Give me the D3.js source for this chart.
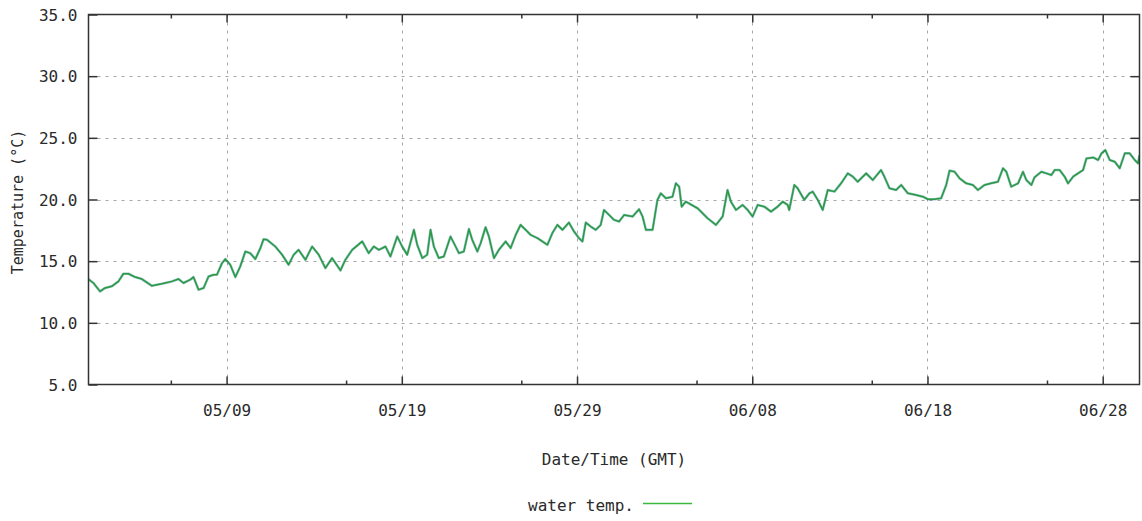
<!DOCTYPE html>
<html>
<head>
<meta charset="utf-8">
<script src="https://cdn.jsdelivr.net/npm/d3@7"></script>
<style>
  html, body { margin: 0; padding: 0; background: #fff; }
  svg { display: block; }
  text { font-family: "DejaVu Sans Mono", monospace; fill: #2a2a2a; }
</style>
</head>
<body>
<svg id="chart" width="1142" height="521"></svg>
<script>
// ---- data (days since 2013-05-01 00:00 GMT, water temperature in °C) ----
const dayOffsets = [
  0.11, 0.40, 0.78, 1.07, 1.45, 1.83, 2.11, 2.40, 2.78, 3.17, 3.74, 4.31, 4.88, 5.26, 5.54, 5.93,
  6.11, 6.40, 6.69, 6.97, 7.26, 7.45, 7.74, 7.93, 8.21, 8.50, 8.78, 9.07, 9.35, 9.64, 9.93, 10.11,
  10.31, 10.78, 11.17, 11.54, 11.83, 12.11, 12.50, 12.88, 13.26, 13.64, 14.02, 14.50, 14.78, 15.17,
  15.74, 16.11, 16.40, 16.69, 17.07, 17.35, 17.74, 18.02, 18.31, 18.69, 18.88, 19.17, 19.45, 19.64,
  19.83, 20.11, 20.40, 20.78, 21.07, 21.26, 21.54, 21.83, 22.02, 22.31, 22.50, 22.78, 22.97, 23.26,
  23.54, 23.93, 24.21, 24.50, 24.78, 25.07, 25.35, 25.74, 26.02, 26.31, 26.59, 26.88, 27.17, 27.54,
  27.83, 28.11, 28.31, 28.50, 28.78, 29.07, 29.35, 29.54, 29.83, 30.11, 30.40, 30.69, 31.17, 31.54,
  31.74, 31.93, 32.31, 32.59, 32.78, 33.07, 33.45, 33.64, 33.83, 33.97, 34.21, 34.88, 35.45, 35.93,
  36.31, 36.59, 36.78, 37.07, 37.45, 37.74, 38.02, 38.31, 38.69, 39.07, 39.45, 39.74, 40.02, 40.11,
  40.40, 40.59, 40.97, 41.26, 41.45, 41.74, 42.02, 42.31, 42.69, 43.07, 43.45, 43.74, 44.02, 44.50,
  44.88, 45.35, 45.54, 45.83, 46.21, 46.50, 46.88, 47.35, 47.74, 48.02, 48.40, 48.78, 49.07, 49.26,
  49.54, 49.83, 50.21, 50.59, 50.88, 51.26, 51.64, 52.02, 52.31, 52.50, 52.78, 53.17, 53.45, 53.64,
  53.93, 54.11, 54.50, 54.78, 55.07, 55.26, 55.54, 55.83, 56.02, 56.31, 56.59, 56.88, 57.07, 57.45,
  57.74, 57.93, 58.15, 58.40, 58.69, 58.97, 59.26, 59.54, 59.83, 60.02, 60.10
];
const waterTemp = [
  13.55, 13.23, 12.55, 12.83, 12.96, 13.36, 13.98, 13.98, 13.71, 13.55, 13.00, 13.17, 13.36, 13.55, 13.23, 13.50,
  13.71, 12.69, 12.83, 13.76, 13.90, 13.90, 14.84, 15.17, 14.71, 13.71, 14.57, 15.78, 15.65, 15.17, 16.06, 16.78,
  16.73, 16.19, 15.52, 14.71, 15.52, 15.92, 15.11, 16.19, 15.52, 14.44, 15.25, 14.25, 15.11, 15.92,
  16.60, 15.65, 16.19, 15.92, 16.19, 15.38, 17.00, 16.19, 15.52, 17.54, 16.33, 15.25, 15.52, 17.54,
  16.19, 15.25, 15.38, 17.00, 16.19, 15.65, 15.78, 17.60, 16.73, 15.78, 16.46, 17.75, 17.00, 15.25,
  15.92, 16.60, 16.06, 17.13, 17.94, 17.54, 17.13, 16.87, 16.60, 16.33, 17.27, 17.94, 17.54, 18.13,
  17.40, 16.87, 16.60, 18.13, 17.81, 17.54, 17.94, 19.15, 18.75, 18.35, 18.21, 18.75, 18.62, 19.21,
  18.62, 17.54, 17.54, 19.97, 20.50, 20.10, 20.23, 21.31, 21.04, 19.42, 19.83, 19.29, 18.48, 17.94,
  18.62, 20.77, 19.83, 19.15, 19.56, 19.15, 18.62, 19.56, 19.42, 19.02, 19.42, 19.83, 19.56, 19.15,
  21.18, 20.91, 19.97, 20.50, 20.64, 19.97, 19.15, 20.77, 20.64, 21.31, 22.12, 21.85, 21.44, 22.12,
  21.58, 22.39, 21.85, 20.91, 20.77, 21.18, 20.50, 20.37, 20.23, 20.02, 20.02, 20.10, 21.18, 22.34,
  22.26, 21.72, 21.31, 21.18, 20.77, 21.18, 21.31, 21.44, 22.53, 22.25, 21.04, 21.31, 22.25, 21.58,
  21.18, 21.80, 22.25, 22.12, 21.98, 22.39, 22.39, 21.85, 21.31, 21.85, 22.12, 22.39, 23.33, 23.41,
  23.20, 23.74, 24.01, 23.20, 23.06, 22.53, 23.74, 23.74, 23.20, 22.93, 23.60
];
const yTicks = [5, 10, 15, 20, 25, 30, 35];
const xTickDays = [8, 18, 28, 38, 48, 58];
const xTickLabels = ["05/09", "05/19", "05/29", "06/08", "06/18", "06/28"];
const xMinorTickDays = [4.82, 14.82, 24.82, 34.82, 44.82, 54.82];
const xDomainDays = [0.12, 60.1];
const yDomain = [5, 35];
const seriesName = "water temp.";
const yTitle = "Temperature (°C)";
const xTitle = "Date/Time (GMT)";

// ---- drawing ----
const base = Date.UTC(2013, 4, 1);
const toDate = d => new Date(base + d * 86400000);
const data = dayOffsets.map((d, i) => ({ t: toDate(d), v: waterTemp[i] }));

const svg = d3.select("#chart");
const L = 88.5, R = 1139.5, T = 14.5, B = 384.5;

const x = d3.scaleUtc().domain(xDomainDays.map(toDate)).range([L, R]);
const y = d3.scaleLinear().domain(yDomain).range([B, T]);

const grid = svg.append("g").attr("stroke", "#a6a6a6").attr("stroke-width", 1)
  .attr("stroke-dasharray", "3,5");
yTicks.filter(v => v > yDomain[0] && v < yDomain[1]).forEach(v => {
  grid.append("line").attr("x1", L + 9).attr("x2", R).attr("y1", Math.round(y(v)) + 0.5).attr("y2", Math.round(y(v)) + 0.5);
});
xTickDays.forEach(d => {
  const px = Math.round(x(toDate(d))) + 0.5;
  grid.append("line").attr("x1", px).attr("x2", px).attr("y1", T).attr("y2", B);
});

// clip
svg.append("clipPath").attr("id", "clip").append("rect")
  .attr("x", L).attr("y", T).attr("width", R - L).attr("height", B - T);

const line = d3.line().x(d => x(d.t)).y(d => y(d.v));
svg.append("path").datum(data).attr("clip-path", "url(#clip)")
  .attr("fill", "none").attr("stroke", "#1f7f9a").attr("stroke-opacity", 0.45)
  .attr("stroke-width", 2.6).attr("stroke-linejoin", "round").attr("d", line);
svg.append("path").datum(data).attr("clip-path", "url(#clip)")
  .attr("fill", "none").attr("stroke", "#2a9a3c")
  .attr("stroke-width", 1.5).attr("stroke-linejoin", "round").attr("d", line);

// axes via d3 (inward ticks)
const yAxis = d3.axisLeft(y).tickValues(yTicks).tickFormat(d3.format(".1f")).tickSizeInner(-9).tickSizeOuter(0).tickPadding(20);
const gy = svg.append("g").attr("transform", `translate(${L},0)`).call(yAxis);
const gyR = svg.append("g").attr("transform", `translate(${R},0)`)
  .call(d3.axisRight(y).tickValues(yTicks.filter(v => v > yDomain[0] && v < yDomain[1])).tickSizeInner(-9).tickSizeOuter(0).tickFormat(""));

const xAxis = d3.axisBottom(x).tickValues(xTickDays.map(toDate))
  .tickFormat((d, i) => xTickLabels[i]).tickSizeInner(-8).tickSizeOuter(0).tickPadding(20);
const gx = svg.append("g").attr("transform", `translate(0,${B})`).call(xAxis);
const gxTop = svg.append("g").attr("transform", `translate(0,${T})`)
  .call(d3.axisTop(x).tickValues(xTickDays.map(toDate)).tickSizeInner(-8).tickSizeOuter(0).tickFormat(""));
const gxMinor = svg.append("g").attr("transform", `translate(0,${B})`)
  .call(d3.axisBottom(x).tickValues(xMinorTickDays.map(toDate)).tickSizeInner(-4).tickSizeOuter(0).tickFormat(""));
const gxMinorTop = svg.append("g").attr("transform", `translate(0,${T})`)
  .call(d3.axisTop(x).tickValues(xMinorTickDays.map(toDate)).tickSizeInner(-4).tickSizeOuter(0).tickFormat(""));

[gy, gyR, gx, gxTop, gxMinor, gxMinorTop].forEach(g => {
  g.select(".domain").remove();
  g.selectAll(".tick line").attr("stroke", "#333").attr("stroke-width", 1.5);
  g.selectAll(".tick text").attr("font-family", "DejaVu Sans Mono, monospace")
    .attr("font-size", 16).attr("fill", "#2a2a2a");
});
gy.selectAll(".tick text").attr("dx", 9).attr("dy", "0.36em");
gx.selectAll(".tick text").attr("dy", "0.72em");

// border
svg.append("rect").attr("x", L).attr("y", T).attr("width", R - L).attr("height", B - T)
  .attr("fill", "none").attr("stroke", "#333").attr("stroke-width", 1.5);

// titles
svg.append("text").attr("transform", "translate(23,202) rotate(-90)")
  .attr("text-anchor", "middle").attr("font-size", 15).text(yTitle);
svg.append("text").attr("x", (L + R) / 2).attr("y", 465)
  .attr("text-anchor", "middle").attr("font-size", 16).text(xTitle);

// legend
svg.append("text").attr("x", 634).attr("y", 511).attr("text-anchor", "end")
  .attr("font-size", 16).text(seriesName);
svg.append("line").attr("x1", 643).attr("x2", 692).attr("y1", 503.5).attr("y2", 503.5)
  .attr("stroke", "#3cb83c").attr("stroke-width", 1.5);
</script>
</body>
</html>
